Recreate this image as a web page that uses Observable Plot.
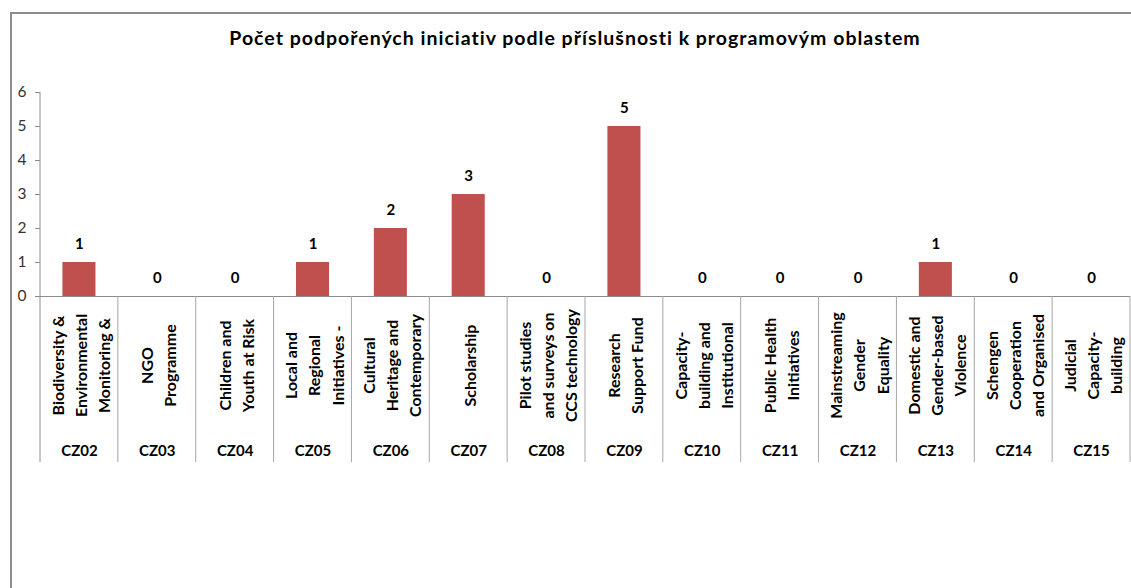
<!DOCTYPE html>
<html>
<head>
<meta charset="utf-8">
<script src="https://cdn.jsdelivr.net/npm/d3@7"></script>
<script src="https://cdn.jsdelivr.net/npm/@observablehq/plot@0.6"></script>
<style>
  body { margin: 0; background: #fff; font-family: Lato, sans-serif; }
  #wrap { position: relative; width: 1131px; height: 588px; overflow: hidden; }
  #frame { position: absolute; left: 10px; top: 12px; width: 1200px; height: 700px;
           border-left: 2px solid #8c8c8c; border-top: 2px solid #8c8c8c; pointer-events: none; }
  #title { height: 70px; box-sizing: border-box; padding-top: 28px; padding-left: 19px;
           text-align: center; font-weight: bold; font-size: 19.5px; line-height: 20px; color: #000;
           letter-spacing: 1px; }
  svg { display: block; }
</style>
</head>
<body>
<div id="wrap">
  <div id="frame"></div>
  <div id="title">Počet podpořených iniciativ podle příslušnosti k programovým oblastem</div>
  <div id="chart"></div>
</div>
<script>
const categories = ["CZ02","CZ03","CZ04","CZ05","CZ06","CZ07","CZ08","CZ09","CZ10","CZ11","CZ12","CZ13","CZ14","CZ15"];
const values = [1,0,0,1,2,3,0,5,0,0,0,1,0,0];
const programmeNames = [
  "Biodiversity &\nEnvironmental\nMonitoring &",
  "NGO\nProgramme",
  "Children and\nYouth at Risk",
  "Local and\nRegional\nInitiatives -",
  "Cultural\nHeritage and\nContemporary",
  "Scholarship",
  "Pilot studies\nand surveys on\nCCS technology",
  "Research\nSupport Fund",
  "Capacity-\nbuilding and\nInstitutional",
  "Public Health\nInitiatives",
  "Mainstreaming\nGender\nEquality",
  "Domestic and\nGender-based\nViolence",
  "Schengen\nCooperation\nand Organised",
  "Judicial\nCapacity-\nbuilding"
];
const yTicks = [0,1,2,3,4,5,6];

const data = categories.map((c, i) => ({code: c, value: values[i], name: programmeNames[i]}));

const chart = Plot.plot({
  width: 1131,
  height: 518,
  marginTop: 22,
  marginBottom: 292,
  marginLeft: 40,
  marginRight: 1,
  style: { fontFamily: "Lato, sans-serif", fontSize: "15.5px", color: "#8c8c8c", background: "transparent", overflow: "visible" },
  x: { domain: categories, padding: 0, round: false, axis: null },
  y: { domain: [0, 6], ticks: yTicks, tickSize: 5, tickPadding: 9, label: null, tickFormat: d => String(d) },
  marks: [
    Plot.barY(data, { x: "code", y: "value", fill: "#C0504D", insetLeft: 22.4, insetRight: 22.4 }),
    Plot.ruleY([0], { stroke: "#8c8c8c" }),
    Plot.text(data, { x: "code", y: "value", text: d => String(d.value), dy: -18, fontWeight: "bold", fontSize: 15, fill: "#000" }),
    Plot.text(data, { x: "code", text: "name", frameAnchor: "bottom", dy: 69, lineAnchor: "middle", rotate: -90,
                      lineHeight: 1.45, fontWeight: "bold", fontSize: 16, fill: "#000" }),
    Plot.text(data, { x: "code", text: "code", frameAnchor: "bottom", dy: 155, lineAnchor: "middle",
                      fontWeight: "bold", fontSize: 15, fill: "#000" })
  ]
});

document.getElementById("chart").appendChild(chart);

// y-axis tick labels darker than tick marks
chart.querySelectorAll('[aria-label^="y-axis"] text').forEach(t => t.setAttribute("fill", "#333"));

// category separators of the multi-level axis, from the x scale
const sx = chart.scale("x"), sy = chart.scale("y");
const step = sx.step != null ? sx.step : sx.bandwidth;
const r0 = Math.min(sx.range[0], sx.range[1]);
const bottomY = sy.apply(0) + 166;
const g = d3.select(chart).append("g").attr("aria-label", "category separators");
for (let i = 0; i <= categories.length; i++) {
  const x = r0 + i * step;
  g.append("line")
    .attr("x1", x).attr("x2", x)
    .attr("y1", i === 0 ? sy.apply(6) : sy.apply(0))
    .attr("y2", bottomY)
    .attr("stroke", i === 0 ? "#8c8c8c" : "#a6a6a6")
    .attr("stroke-width", 1);
}
</script>
</body>
</html>
